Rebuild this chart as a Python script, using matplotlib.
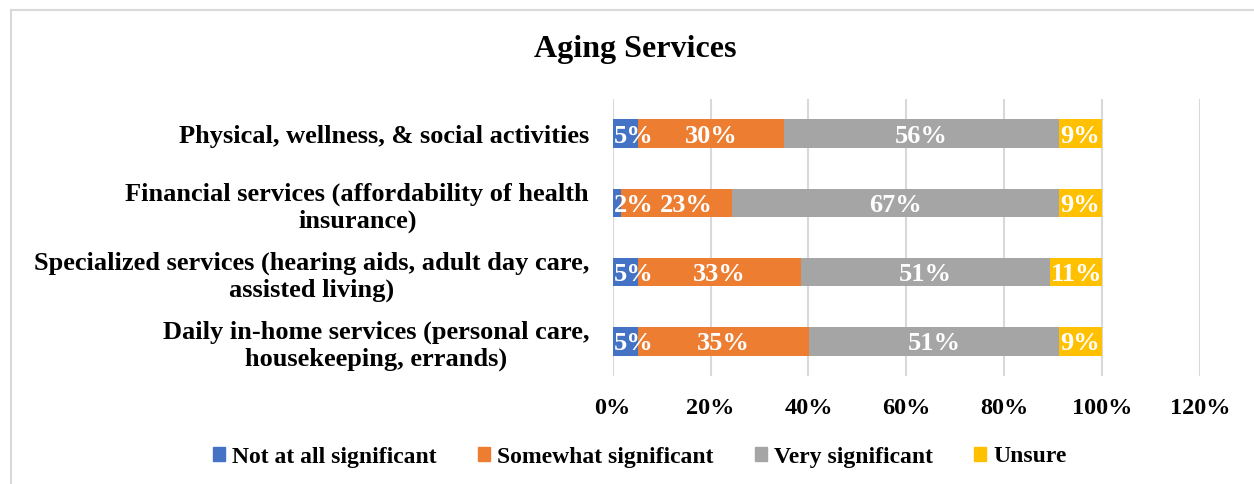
import matplotlib
matplotlib.use("Agg")
import matplotlib.pyplot as plt
from matplotlib.lines import Line2D
import numpy as np

categories = [
    "Daily in-home services (personal care,\nhousekeeping, errands)",
    "Specialized services (hearing aids, adult day care,\nassisted living)",
    "Financial services (affordability of health\ninsurance)",
    "Physical, wellness, & social activities",
]
series_names = ["Not at all significant", "Somewhat significant", "Very significant", "Unsure"]
not_at_all = [5.1, 5.1, 1.6, 5.1]
somewhat = [35.1, 33.4, 22.7, 29.9]
very = [51.0, 50.9, 66.9, 56.2]
unsure = [8.8, 10.6, 8.8, 8.8]
colors = ["#4472C4", "#ED7D31", "#A5A5A5", "#FFC000"]
xticks = [0, 20, 40, 60, 80, 100, 120]

plt.rcParams['font.family'] = ['Liberation Serif', 'DejaVu Serif']
plt.rcParams['font.weight'] = 'bold'

W, H = 1254, 484
fig = plt.figure(figsize=(W / 100, H / 100), dpi=100)
ax = fig.add_axes([612.7 / W, 1 - 376 / H, (1200 - 612.7) / W, (376 - 99) / H])

# small manual nudge (in % units) for a crowded label: (series index, row index) -> dx
label_nudge = {(1, 2): 2.0}

y = np.arange(len(categories))
left = np.zeros(len(categories))
for si, (vals, name, c) in enumerate(zip([not_at_all, somewhat, very, unsure], series_names, colors)):
    vals = np.array(vals)
    ax.barh(y, vals, left=left, height=0.41, color=c, label=name, zorder=3)
    for ri, (yi, l, v) in enumerate(zip(y, left, vals)):
        if si == 0:
            ax.text(l + 0.2, yi, f"{round(v):.0f}%", ha='left', va='center_baseline',
                    color='white', fontsize=19, fontweight='bold', zorder=4, clip_on=True)
        else:
            dx = label_nudge.get((si, ri), 0.0)
            ax.text(l + v / 2 + dx, yi, f"{round(v):.0f}%", ha='center', va='center_baseline',
                    color='white', fontsize=19, fontweight='bold', zorder=4, clip_on=True)
    left = left + vals

ax.set_xlim(0, 120)
ax.set_ylim(-0.5, len(categories) - 0.5)
ax.set_xticks(xticks)
ax.set_xticklabels([f"{t}%" for t in xticks], fontsize=17.5, fontweight='bold')
ax.set_yticks(y)
ax.set_yticklabels(categories, fontsize=19, fontweight='bold', multialignment='center',
                   linespacing=1.2)
ax.tick_params(axis='both', length=0)
ax.tick_params(axis='y', pad=17)
ax.tick_params(axis='x', pad=16)
ax.grid(axis='x', color='#D9D9D9', linewidth=1.5, zorder=0)
for s in ax.spines.values():
    s.set_visible(False)

fig.text(635 / W, 1 - 49 / H, "Aging Services", ha='center', va='center',
         fontsize=23, fontweight='bold')

handles = [plt.Rectangle((0, 0), 1, 1, color=c) for c in colors]
fig.legend(handles, series_names, loc='center', bbox_to_anchor=(640 / W, 1 - 457 / H),
           ncol=4, frameon=False, handlelength=0.5, handleheight=0.5,
           handletextpad=0.3, columnspacing=1.75, prop={'weight': 'bold', 'size': 17})

# outer chart border
fig.add_artist(Line2D([10.5 / W, 1], [1 - 9.5 / H, 1 - 9.5 / H], color='#D9D9D9', linewidth=1.5,
                      transform=fig.transFigure))
fig.add_artist(Line2D([10.5 / W, 10.5 / W], [0, 1 - 9.5 / H], color='#D9D9D9', linewidth=1.5,
                      transform=fig.transFigure))

fig.savefig("out.png", dpi=100)
